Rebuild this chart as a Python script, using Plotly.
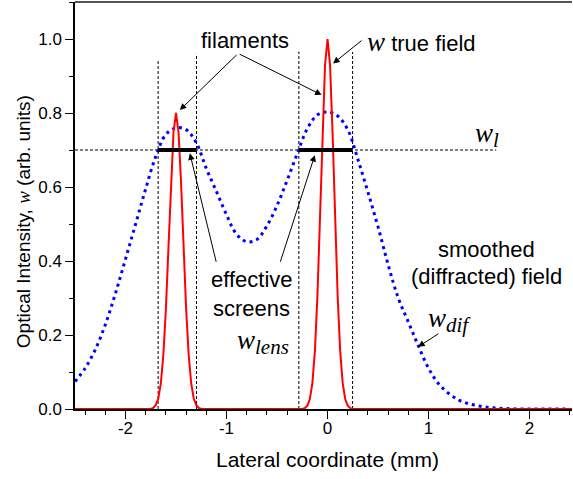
import plotly.graph_objects as go

# ---- data ----
# smoothed (diffracted) field w_dif
dif_x = [-2.5, -2.4, -2.3, -2.2, -2.1, -2.0, -1.9, -1.8, -1.7, -1.6, -1.5, -1.4, -1.3, -1.2, -1.1,
         -1.0, -0.9, -0.8, -0.7, -0.6, -0.5, -0.4, -0.3, -0.2, -0.1, 0.0, 0.1, 0.2, 0.3, 0.4,
         0.5, 0.6, 0.7, 0.8, 0.9, 1.0, 1.1, 1.2, 1.3, 1.4, 1.5, 1.6, 1.7, 1.8, 1.9, 2.0,
         2.1, 2.2, 2.3, 2.4]
dif_w = [0.074, 0.110, 0.160, 0.228, 0.312, 0.405, 0.500, 0.595, 0.683, 0.742, 0.760, 0.755, 0.720, 0.650, 0.588,
         0.525, 0.472, 0.452, 0.458, 0.495, 0.550, 0.618, 0.690, 0.758, 0.795, 0.803, 0.792, 0.755, 0.675, 0.586,
         0.492, 0.390, 0.300, 0.235, 0.170, 0.110, 0.068, 0.042, 0.024, 0.014, 0.008, 0.004, 0.002, 0.001, 0.0, 0.0,
         0.0, 0.0, 0.0, 0.0]

# true field w (two filaments)
true_x = [-2.5, -1.8, -1.75, -1.725, -1.7, -1.675, -1.65, -1.625, -1.6, -1.575, -1.55, -1.525, -1.5,
          -1.475, -1.45, -1.425, -1.4, -1.375, -1.35, -1.325, -1.3, -1.275, -1.25, -1.2,
          -0.3, -0.25, -0.225, -0.2, -0.175, -0.15, -0.125, -0.1, -0.075, -0.05, -0.025, 0.0,
          0.025, 0.05, 0.075, 0.1, 0.125, 0.15, 0.175, 0.2, 0.225, 0.25, 0.3, 2.42]
true_w = [0.0, 0.0, 0.0, 0.003, 0.011, 0.029, 0.070, 0.148, 0.271, 0.435, 0.611, 0.748, 0.800,
          0.748, 0.611, 0.435, 0.271, 0.148, 0.070, 0.029, 0.011, 0.003, 0.0, 0.0,
          0.0, 0.0, 0.0025, 0.009, 0.027, 0.070, 0.157, 0.306, 0.514, 0.744, 0.929, 1.0,
          0.929, 0.744, 0.514, 0.306, 0.157, 0.070, 0.027, 0.009, 0.0025, 0.0, 0.0, 0.0]

# lens level and effective screens
w_l = 0.7
wl_x = [-2.5, 1.67]
screen_left = [-1.677, -0.284]
screen_right = [-1.297, 0.248]
guide_x = [-1.677, -1.297, -0.284, 0.248]
guide_top = [0.943, 0.960, 0.966, 0.965]

x_ticks = [-2, -1, 0, 1, 2]
x_ticklabels = ["-2", "-1", "0", "1", "2"]
y_ticks = [0.0, 0.2, 0.4, 0.6, 0.8, 1.0]
y_ticklabels = ["0.0", "0.2", "0.4", "0.6", "0.8", "1.0"]

SANS = "Liberation Sans, Arial, sans-serif"
SERIF = "Liberation Serif"

fig = go.Figure()

# vertical guide lines
for gx, gt in zip(guide_x, guide_top):
    fig.add_trace(go.Scatter(x=[gx, gx], y=[0, gt], mode="lines",
                             line=dict(color="black", width=1, dash="3px,2px"),
                             hoverinfo="skip", showlegend=False))
# horizontal w_l line
fig.add_trace(go.Scatter(x=wl_x, y=[w_l, w_l], mode="lines",
                         line=dict(color="black", width=1, dash="3px,2px"),
                         hoverinfo="skip", showlegend=False))
# blue dotted diffracted field
fig.add_trace(go.Scatter(x=dif_x, y=dif_w, mode="lines",
                         line=dict(color="#0000ff", width=3, dash="3px,4px", shape="spline", smoothing=1.0),
                         hoverinfo="skip", showlegend=False))
# red true field
fig.add_trace(go.Scatter(x=true_x, y=true_w, mode="lines",
                         line=dict(color="#ff0000", width=2),
                         hoverinfo="skip", showlegend=False))
# thick effective screens
for a, b in zip(screen_left, screen_right):
    fig.add_trace(go.Scatter(x=[a, b], y=[w_l, w_l], mode="lines",
                             line=dict(color="black", width=4),
                             hoverinfo="skip", showlegend=False))

def wspan(size, sub=None, subsize=None):
    s = '<span style="font-family:\'%s\';font-size:%dpx"><i>w</i></span>' % (SERIF, size)
    if sub:
        s += '<sub><span style="font-family:\'%s\';font-size:%dpx"><i>%s</i></span></sub>' % (SERIF, subsize, sub)
    return s

ann = []
txt = dict(showarrow=False, font=dict(family=SANS, size=22, color="black"))
ann.append(dict(x=-0.819, y=0.997, text="filaments", xanchor="center", yanchor="middle", **txt))
ann.append(dict(x=0.369, y=0.992, text=wspan(27) + " true field", xanchor="left", yanchor="middle", **txt))
ann.append(dict(x=1.436, y=0.740, text=wspan(27, "l", 21), xanchor="left", yanchor="middle", **txt))
ann.append(dict(x=1.577, y=0.432, text="smoothed", xanchor="center", yanchor="middle", **txt))
ann.append(dict(x=1.577, y=0.357, text="(diffracted) field", xanchor="center", yanchor="middle", **txt))
ann.append(dict(x=0.973, y=0.240, text=wspan(27, "dif", 21), xanchor="left", yanchor="middle", **txt))
ann.append(dict(x=-0.752, y=0.349, text="effective", xanchor="center", yanchor="middle", **txt))
ann.append(dict(x=-0.752, y=0.272, text="screens", xanchor="center", yanchor="middle", **txt))
ann.append(dict(x=-0.918, y=0.180, text=wspan(27, "lens", 21), xanchor="left", yanchor="middle", **txt))

# arrows (head at x,y ; tail at ax,ay)
arrows = [
    (-1.462, 0.808, -0.885, 0.961),
    (-0.059, 0.849, -0.885, 0.961),
    (0.055, 0.934, 0.352, 0.999),
    (-1.363, 0.691, -1.099, 0.394),
    (-0.126, 0.686, -0.472, 0.394),
    (0.897, 0.168, 1.112, 0.206),
]
for hx, hy, tx, ty in arrows:
    ann.append(dict(x=hx, y=hy, ax=tx, ay=ty, xref="x", yref="y", axref="x", ayref="y",
                    text="", showarrow=True, arrowhead=2, arrowsize=1.3, arrowwidth=1,
                    arrowcolor="black", standoff=0, startstandoff=0))

# axis titles
ann.append(dict(xref="paper", yref="paper", x=-0.1046, y=0.459, textangle=-90,
                text="Optical Intensity, " + '<span style="font-family:\'%s\'"><i>w</i></span>' % SERIF + " (arb. units)",
                showarrow=False, font=dict(family=SANS, size=19, color="black"),
                xanchor="center", yanchor="middle"))
ann.append(dict(xref="x", yref="paper", x=0.0, y=-0.125,
                text="Lateral coordinate (mm)", showarrow=False,
                font=dict(family=SANS, size=21, color="black"), xanchor="center", yanchor="middle"))

fig.update_layout(
    width=573, height=479,
    margin=dict(l=75, r=1, t=2, b=70),
    paper_bgcolor="white", plot_bgcolor="white",
    showlegend=False,
    annotations=ann,
    shapes=[dict(type="line", xref="paper", yref="paper", x0=0, x1=1, y0=1, y1=1,
                 line=dict(color="#555555", width=2))],
    font=dict(family=SANS, size=17, color="black"),
)
fig.update_xaxes(range=[-2.5, 2.42], showgrid=False, zeroline=False,
                 showline=True, linecolor="black", linewidth=1.5,
                 ticks="outside", ticklen=8, tickwidth=1.2, tickcolor="black",
                 tickvals=x_ticks, ticktext=x_ticklabels, ticklabelstandoff=-5,
                 tickfont=dict(family=SANS, size=17, color="black"),
                 minor=dict(dtick=0.2, tick0=0, ticks="outside", ticklen=4, tickwidth=1.2, tickcolor="black"))
fig.update_yaxes(range=[0, 1.1], showgrid=False, zeroline=False,
                 showline=True, linecolor="black", linewidth=1.5,
                 ticks="outside", ticklen=8, tickwidth=1.2, tickcolor="black",
                 tickvals=y_ticks, ticktext=y_ticklabels,
                 tickfont=dict(family=SANS, size=17, color="black"),
                 minor=dict(dtick=0.1, tick0=0, ticks="outside", ticklen=4, tickwidth=1.2, tickcolor="black"))

fig.write_html("out.html")
